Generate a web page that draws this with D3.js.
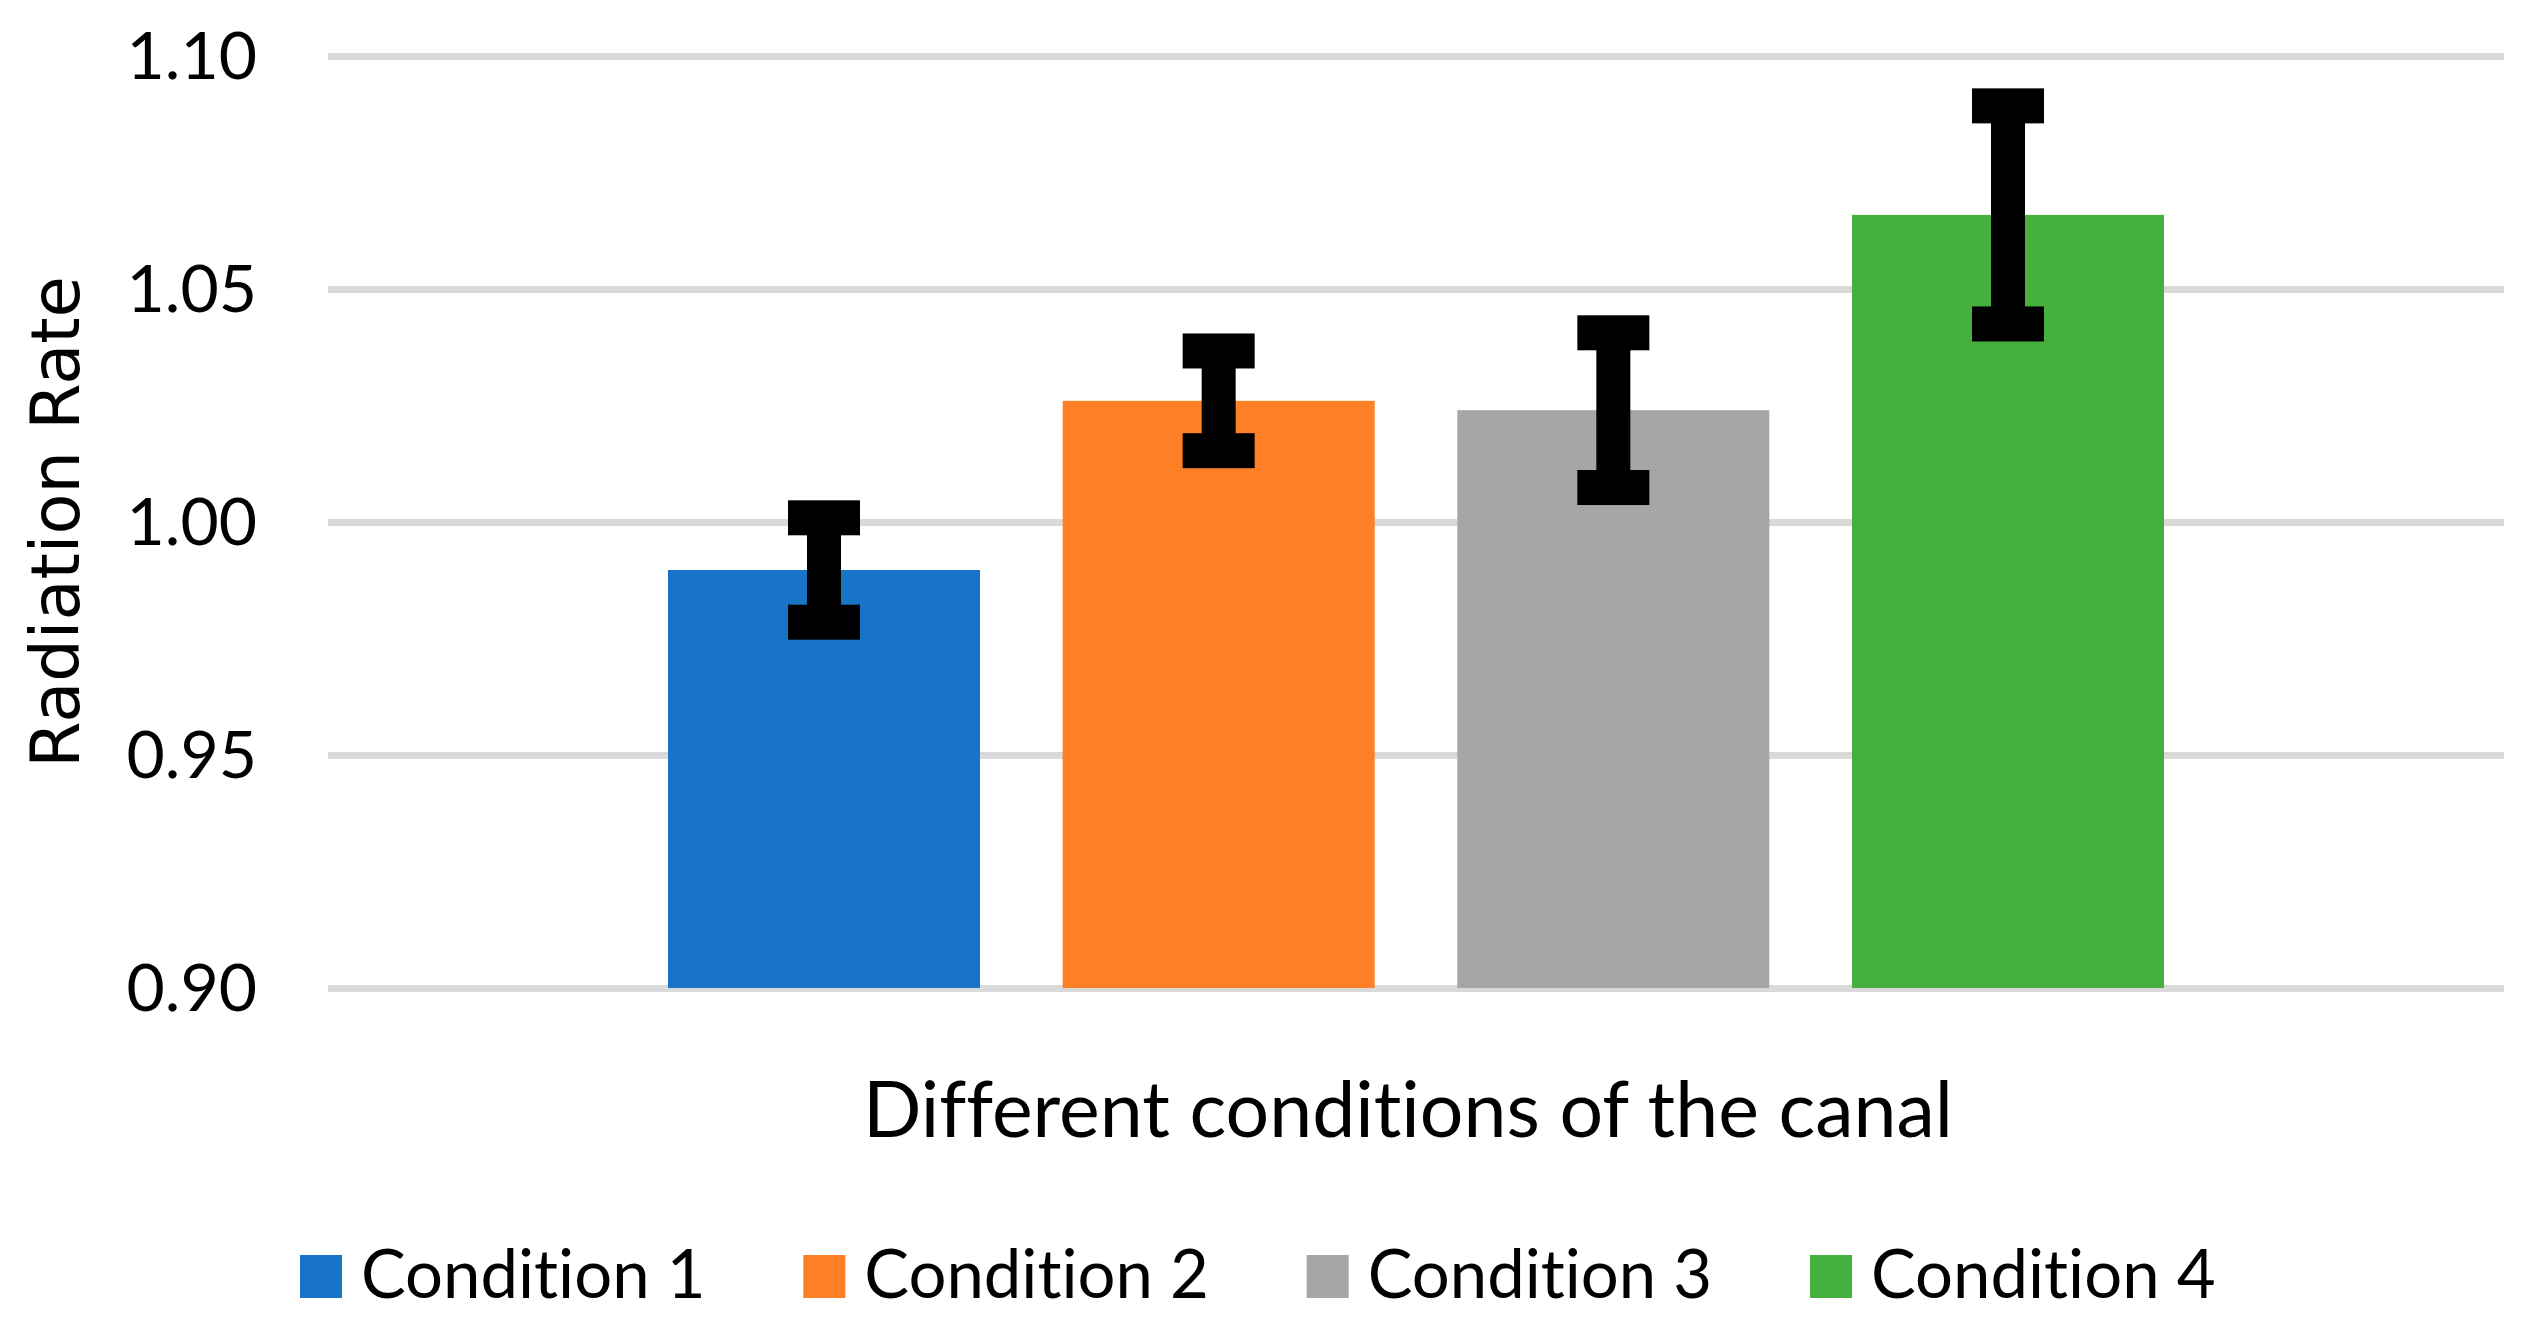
<!DOCTYPE html>
<html>
<head>
<meta charset="utf-8">
<script src="https://cdn.jsdelivr.net/npm/d3@7"></script>
<style>
  html, body { margin: 0; padding: 0; background: #ffffff; }
  svg { display: block; }
  text { font-variant-ligatures: none; font-feature-settings: "liga" 0, "clig" 0; }
</style>
</head>
<body>
<div id="chart"></div>
<script>
// ---- Data ----
const categories = ["Condition 1", "Condition 2", "Condition 3", "Condition 4"];
const values = [0.9897, 1.0260, 1.0240, 1.0659];
const errors = [0.0112, 0.0107, 0.0166, 0.0234];
const yTicks = [0.90, 0.95, 1.00, 1.05, 1.10];
const colors = ["#1874C9", "#FF7F27", "#A6A6A6", "#46B03E"];
const xTitle = "Different conditions of the canal";
const yTitle = "Radiation Rate";

// ---- Layout ----
const W = 2523, H = 1331;
const plot = { left: 328, right: 2504, top: 56, bottom: 988 };

const svg = d3.select("#chart").append("svg")
  .attr("width", W).attr("height", H)
  .attr("viewBox", `0 0 ${W} ${H}`);

svg.append("rect").attr("width", W).attr("height", H).attr("fill", "#fff");

const y = d3.scaleLinear().domain([0.90, 1.10]).range([plot.bottom, plot.top]);
const x = d3.scaleBand().domain(categories)
  .range([668, 2164]).paddingInner(0.2095).paddingOuter(0);

// Gridlines
const grid = svg.append("g").attr("transform", `translate(${plot.left},0)`)
  .call(d3.axisLeft(y).tickValues(yTicks).tickSize(-(plot.right - plot.left)).tickFormat(""));
grid.select(".domain").remove();
grid.selectAll(".tick line").attr("stroke", "#D9D9D9").attr("stroke-width", 7);

// Y tick labels
const yAxis = svg.append("g").attr("transform", `translate(${plot.left},0)`)
  .call(d3.axisLeft(y).tickValues(yTicks).tickSize(0).tickPadding(71).tickFormat(d3.format(".2f")));
yAxis.select(".domain").remove();
yAxis.selectAll(".tick text")
  .attr("font-family", "Lato, 'Open Sans', sans-serif")
  .attr("font-size", 66)
  .attr("fill", "#000")
  .attr("dy", "0.34em");

// Bars
svg.append("g").selectAll("rect").data(categories).join("rect")
  .attr("x", d => x(d))
  .attr("width", x.bandwidth())
  .attr("y", (d, i) => y(values[i]))
  .attr("height", (d, i) => y(0.90) - y(values[i]))
  .attr("fill", (d, i) => colors[i]);

// Error bars
const lineW = 34, capW = 72, capH = 35;
const eb = svg.append("g").attr("fill", "#000");
categories.forEach((c, i) => {
  const cx = x(c) + x.bandwidth() / 2;
  const yTop = y(values[i] + errors[i]);
  const yBot = y(values[i] - errors[i]);
  eb.append("rect").attr("x", cx - lineW / 2).attr("y", yTop).attr("width", lineW).attr("height", yBot - yTop);
  eb.append("rect").attr("x", cx - capW / 2).attr("y", yTop - capH / 2).attr("width", capW).attr("height", capH);
  eb.append("rect").attr("x", cx - capW / 2).attr("y", yBot - capH / 2).attr("width", capW).attr("height", capH);
});

// Axis titles
svg.append("text")
  .attr("x", 1408).attr("y", 1137)
  .attr("text-anchor", "middle")
  .attr("font-family", "Lato, 'Open Sans', sans-serif")
  .attr("font-size", 77)
  .attr("fill", "#000")
  .text(xTitle);

svg.append("text")
  .attr("transform", "translate(79,522) rotate(-90)")
  .attr("text-anchor", "middle")
  .attr("font-family", "'DejaVu Sans', sans-serif")
  .attr("font-size", 67)
  .attr("fill", "#000")
  .text(yTitle);

// Legend
const legendX = d3.scalePoint().domain(categories).range([300, 1810]);
const lg = svg.append("g").selectAll("g").data(categories).join("g")
  .attr("transform", d => `translate(${legendX(d)},0)`);
lg.append("rect").attr("x", 0).attr("y", 1255).attr("width", 42).attr("height", 43)
  .attr("fill", (d, i) => colors[i]);
lg.append("text").attr("x", 61).attr("y", 1298)
  .attr("font-family", "Lato, 'Open Sans', sans-serif")
  .attr("font-size", 67)
  .attr("fill", "#000")
  .text(d => d);
</script>
</body>
</html>
